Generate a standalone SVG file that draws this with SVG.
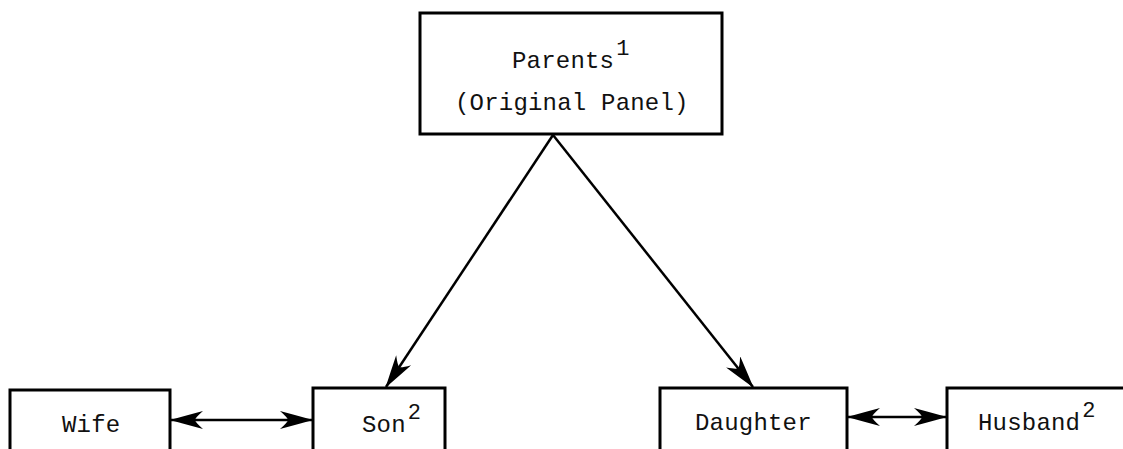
<svg xmlns="http://www.w3.org/2000/svg" width="1123" height="449" viewBox="0 0 1123 449">
<style>
.box{fill:#fff;stroke:#000;stroke-width:3}
.lbl{font-family:"Liberation Mono","DejaVu Sans Mono",monospace;font-size:24px;letter-spacing:0.2px;fill:#111}
.sup{font-size:22px}
.conn{stroke:#000;stroke-width:2.5;fill:none}
</style>
<defs>
<marker id="ah" viewBox="0 0 34 18" refX="33" refY="9" markerWidth="34" markerHeight="18" orient="auto-start-reverse" markerUnits="userSpaceOnUse">
<path d="M34,9 Q16,4 1,0 Q9,7 9,9 Q9,11 1,18 Q16,14 34,9 Z" fill="#000"/>
</marker>
</defs>
<rect width="1123" height="449" fill="#fff"/>
<g id="connectors">
<line class="conn" x1="553" y1="135" x2="386" y2="387" marker-end="url(#ah)"/>
<line class="conn" x1="553" y1="135" x2="753" y2="387" marker-end="url(#ah)"/>
<line class="conn" x1="171" y1="420" x2="312" y2="420" marker-start="url(#ah)" marker-end="url(#ah)"/>
<line class="conn" x1="848" y1="417" x2="946" y2="417" marker-start="url(#ah)" marker-end="url(#ah)"/>
</g>
<g id="parents">
<rect class="box" x="420" y="13" width="302" height="121"/>
<text class="lbl" x="512" y="68">Parents<tspan class="sup" dx="2" dy="-13">1</tspan></text>
<text class="lbl" x="455" y="110">(Original Panel)</text>
</g>
<g id="wife">
<rect class="box" x="10" y="390" width="160" height="80"/>
<text class="lbl" x="62" y="432">Wife</text>
</g>
<g id="son">
<rect class="box" x="313" y="388" width="132" height="80"/>
<text class="lbl" x="362" y="432">Son<tspan class="sup" dx="2" dy="-13">2</tspan></text>
</g>
<g id="daughter">
<rect class="box" x="660" y="388" width="187" height="80"/>
<text class="lbl" x="695" y="430">Daughter</text>
</g>
<g id="husband">
<rect class="box" x="947" y="388" width="190" height="80"/>
<text class="lbl" x="978" y="430">Husband<tspan class="sup" dx="2" dy="-13">2</tspan></text>
</g>
</svg>
